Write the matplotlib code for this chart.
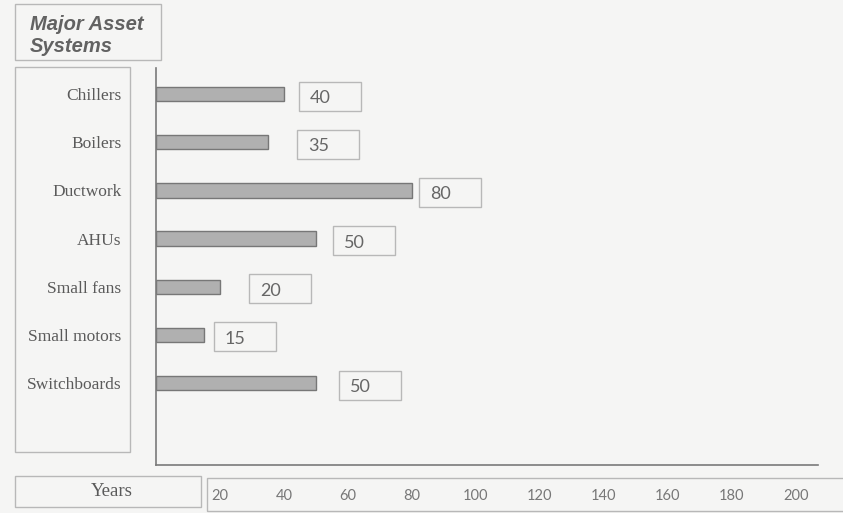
import matplotlib
matplotlib.use("Agg")
import matplotlib.pyplot as plt
import matplotlib.transforms as mtransforms
from matplotlib.patches import Rectangle

# expected service life of major asset systems (years)
systems = ["Chillers", "Boilers", "Ductwork", "AHUs", "Small fans",
           "Small motors", "Switchboards"]
life_years = [40, 35, 80, 50, 20, 15, 50]
year_ticks = [20, 40, 60, 80, 100, 120, 140, 160, 180, 200]

# gap (px) between each bar end and its value box
label_gaps = [15, 29, 7, 17, 29, 10, 23]

W, H = 843, 513
BG = "#f5f5f4"
BOX_EDGE = "#b8b8b8"
INK = "#5a5a5a"

fig = plt.figure(figsize=(W / 100, H / 100), dpi=100, facecolor=BG)


def frame(x0, y0, x1, y1):
    """Outline box given in pixel coords measured from the top-left corner."""
    rect = Rectangle((x0 / W, 1 - y1 / H), (x1 - x0) / W, (y1 - y0) / H,
                     transform=fig.transFigure, fill=False,
                     edgecolor=BOX_EDGE, linewidth=1.0)
    fig.add_artist(rect)


# axes area in pixels
ax_left, ax_right, ax_top, ax_bottom = 156, 818, 68, 465
ax = fig.add_axes([ax_left / W, 1 - ax_bottom / H,
                   (ax_right - ax_left) / W, (ax_bottom - ax_top) / H])
ax.set_facecolor("none")

px_per_year = 3.2
ax.set_xlim(0, (ax_right - ax_left) / px_per_year)
ax.set_ylim(7.7, -0.54)

pos = list(range(len(systems)))
ax.barh(pos, life_years, height=0.3, color="#b0b0b0",
        edgecolor="#777777", linewidth=1.0)

# value boxes to the right of each bar
box_w, box_h = 62, 29
for i, (v, gap) in enumerate(zip(life_years, label_gaps)):
    offset = fig.dpi_scale_trans + mtransforms.ScaledTranslation(v, i, ax.transData)
    ax.add_patch(Rectangle((gap / 100, (-box_h / 2 - 2) / 100),
                           box_w / 100, box_h / 100, transform=offset,
                           fill=False, edgecolor=BOX_EDGE, linewidth=1.0,
                           clip_on=False))
    ax.annotate(str(v), xy=(v, i), xytext=((gap + 11) * 0.72, -4 * 0.72),
                textcoords="offset points", ha="left", va="center",
                fontsize=13, family="Lato", color="#666666",
                annotation_clip=False)

for side in ("top", "right"):
    ax.spines[side].set_visible(False)
for side in ("left", "bottom"):
    ax.spines[side].set_color("#7a7a7a")
    ax.spines[side].set_linewidth(1.2)

ax.set_yticks(pos, systems, family="Liberation Serif", fontsize=12.5,
              color=INK)
ax.tick_params(axis="y", length=0, pad=25)
ax.set_xticks(year_ticks, [str(t) for t in year_ticks], family="Lato",
              fontsize=10.5, color="#777777")
ax.tick_params(axis="x", length=0, pad=17)

# title block
frame(15, 4, 161, 60)
for text, y in (("Major Asset", 25), ("Systems", 46)):
    fig.text(30 / W, 1 - y / H, text, fontsize=14.5, weight="bold",
             style="italic", family="Liberation Sans", color="#626262",
             va="center", ha="left")

# category panel and bottom strip
frame(15, 67, 130, 452)
frame(15, 476, 201, 507)
fig.text(112 / W, 1 - 492 / H, "Years", fontsize=13.5,
         family="Liberation Serif", color=INK, ha="center", va="center")
frame(207, 478, 845, 511)

fig.savefig("out.png", dpi=100, facecolor=BG)
